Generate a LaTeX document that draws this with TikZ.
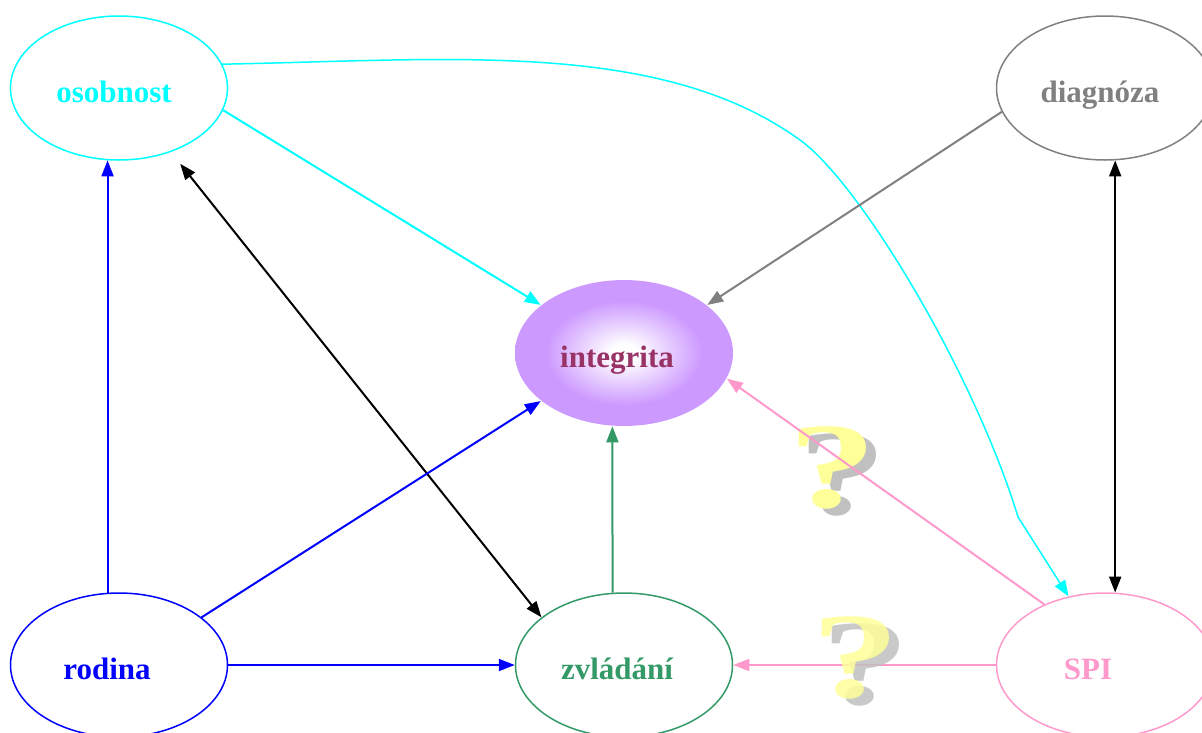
\documentclass[tikz,border=0pt]{standalone}
\usepackage{fontspec}
\setmainfont{Liberation Serif}
\usetikzlibrary{shapes.geometric,arrows.meta}
\definecolor{cy}{HTML}{00FFFF}
\definecolor{gr}{HTML}{808080}
\definecolor{bl}{HTML}{0000FF}
\definecolor{grn}{HTML}{339966}
\definecolor{pnk}{HTML}{FF99CC}
\definecolor{purp}{HTML}{CC99FF}
\definecolor{plum}{HTML}{993366}
\definecolor{yel}{HTML}{FFFF99}
\definecolor{shd}{HTML}{C0C0C0}
\pgfdeclareradialshading{intshade}{\pgfpoint{0bp}{0bp}}{color(0bp)=(white); color(3bp)=(white); color(18bp)=(purp); color(25bp)=(purp); color(50bp)=(purp)}
\newcommand{\qmark}{\rlap{\hspace*{10pt}\raisebox{-7pt}{\textcolor{shd}{\scalebox{1.45}[1]{?}}}}\textcolor{yel}{\scalebox{1.45}[1]{?}}}
\begin{document}
\begin{tikzpicture}[x=1pt,y=-1pt,
  ell/.style={ellipse, minimum width=217pt, minimum height=144pt, inner sep=0pt, line width=1.5pt},
  lab/.style={anchor=base, font=\bfseries\fontsize{31}{31}\selectfont, inner sep=0pt},
  qm/.style={anchor=base, font=\bfseries\fontsize{122}{122}\selectfont, inner sep=0pt},
  tip/.style={Triangle[length=16pt,width=12pt]},
  arr/.style={-{Triangle[length=16pt,width=12pt]}, line width=2pt},
  darr/.style={{Triangle[length=16pt,width=12pt]}-{Triangle[length=16pt,width=12pt]}, line width=2pt}]
\useasboundingbox (0,0) rectangle (1202,732);
% nodes
\node[ell, draw=cy] (oso) at (119,88) {};
\node[ell, draw=gr] (dia) at (1105,88) {};
\node[ell, minimum width=218pt, minimum height=146pt, shade, shading=intshade] (int) at (624,353) {};
\node[ell, draw=bl] (rod) at (119,665) {};
\node[ell, draw=grn] (zvl) at (624,665) {};
\node[ell, draw=pnk] (spi) at (1105,665) {};
% labels
\node[lab, text=cy] (tOso) at (114,102) {osobnost};
\node[lab, text=gr] (tDia) at (1100,102) {diagnóza};
\node[lab, text=plum] (tInt) at (617,367) {integrita};
\node[lab, text=bl] (tRod) at (107,679) {rodina};
\node[lab, text=grn] (tZvl) at (617,679) {zvládání};
\node[lab, text=pnk] (tSpi) at (1088,679) {SPI};
% first question mark (under line)
\node[qm] (q1) at (833,507) {\qmark};
% connectors
\draw[arr, cy] (oso.-12) -- (int.150);
\draw[arr, cy, line width=1.5pt] (oso.13) .. controls (450,60) and (660,39) .. (800,140)
   .. controls (860,183) and (974,373) .. (1018,517) -- (spi.118);
\draw[arr, gr] (dia.-167) -- (int.30);
\draw[darr, black] (dia.-82) -- (spi.82);
\draw[darr, black, shorten <=15pt] (oso.-51) -- (zvl.150);
\draw[arr, bl] (rod.99.5) -- (oso.-99.5);
\draw[arr, bl] (rod.30) -- (int.210);
\draw[arr, bl] (rod.east) -- (zvl.west);
\draw[arr, grn] (zvl.99.5) -- (int.-99.5);
\draw[arr, pnk] (spi.135) -- (int.-14);
\draw[arr, pnk] (spi.west) -- (zvl.east);
% second question mark (over line)
\node[qm, opacity=0.85] (q2) at (856,697) {\qmark};
\end{tikzpicture}
\end{document}
